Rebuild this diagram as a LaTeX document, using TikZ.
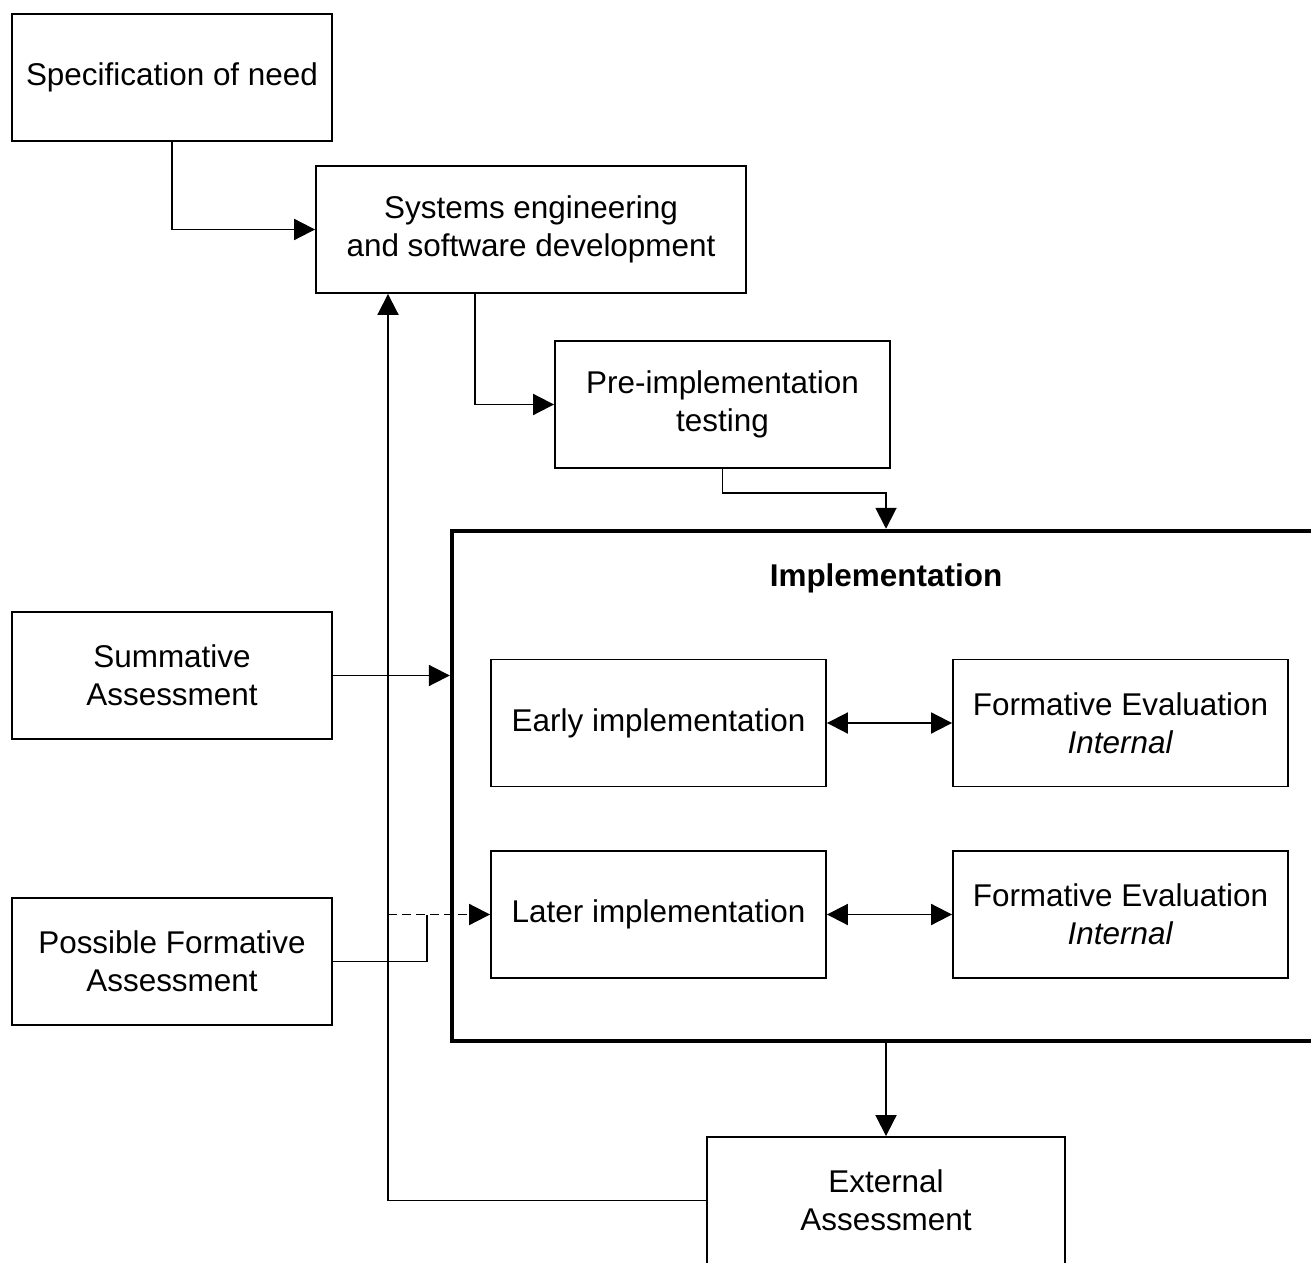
\documentclass[tikz,border=0pt]{standalone}
\usepackage{fontspec}
\setmainfont{Liberation Sans}
\usetikzlibrary{arrows.meta, positioning}

\begin{document}
\begin{tikzpicture}[x=0.02cm, y=-0.02cm, line width=1.1pt,
            font=\fontsize{17.9pt}{21.6pt}\selectfont,
            box/.style={draw, rectangle, align=center, minimum width=6.4cm, minimum height=2.54cm, inner sep=0pt},
            wbox/.style={box, minimum width=6.7cm},
            arr/.style={-{Triangle[length=0.42cm, width=0.42cm]}},
            dbl/.style={{Triangle[length=0.42cm, width=0.42cm]}-{Triangle[length=0.42cm, width=0.42cm]}}]
            \useasboundingbox (0,0) rectangle (1311,1263);
            \clip (0,0) rectangle (1311,1263);

            % outer container
            \node[draw, rectangle, line width=2.6pt, minimum width=17.36cm, minimum height=10.2cm] (impl) at (886,786) {};
            \node[font=\fontsize{17.9pt}{21.6pt}\selectfont\bfseries] (title) at (886,578) {Implementation};

            \node[box] (spec) at (172,77.5) {Specification of need};
            \node[box, minimum width=8.6cm] (sys) at (531,229.5) {Systems engineering\\and software development};
            \node[wbox] (pre) at (722.5,404.5) {Pre-implementation\\testing};

            \node[box] (summ) at (172,675.5) {Summative\\Assessment};
            \node[box] (poss) at (172,961.5) {Possible Formative\\Assessment};

            \node[wbox] (early) at (658.5,723) {Early implementation};
            \node[wbox] (fe1) at (1120.5,723) {Formative Evaluation\\\textit{Internal}};
            \node[wbox] (later) at (658.5,914.5) {Later implementation};
            \node[wbox] (fe2) at (1120.5,914.5) {Formative Evaluation\\\textit{Internal}};

            \node[box, minimum width=7.16cm] (ext) at (886,1200.5) {External\\Assessment};

            \coordinate (fb) at (388,1200.5);
            \coordinate (j) at (427,914.5);

            \draw[arr] (spec.south) |- (sys.west);
            \draw[arr] ([xshift=-1.12cm]sys.south) |- (pre.west);
            \draw[arr] (pre.south) -- ++(0,24) -| (impl.north);
            \draw[arr] (summ.east) -- (summ.east -| impl.west);
            \draw[dbl] (early) -- (fe1);
            \draw[dbl] (later) -- (fe2);
            \draw[arr] (impl.south) -- (ext.north);
            \draw[arr] (ext.west) -- (fb) -- (fb |- sys.south);
            \draw (poss.east) -| (j);
            \draw[arr, dashed, dash pattern=on 0.18cm off 0.1cm] (fb |- later.west) -- (later.west);
        \end{tikzpicture}
\end{document}
